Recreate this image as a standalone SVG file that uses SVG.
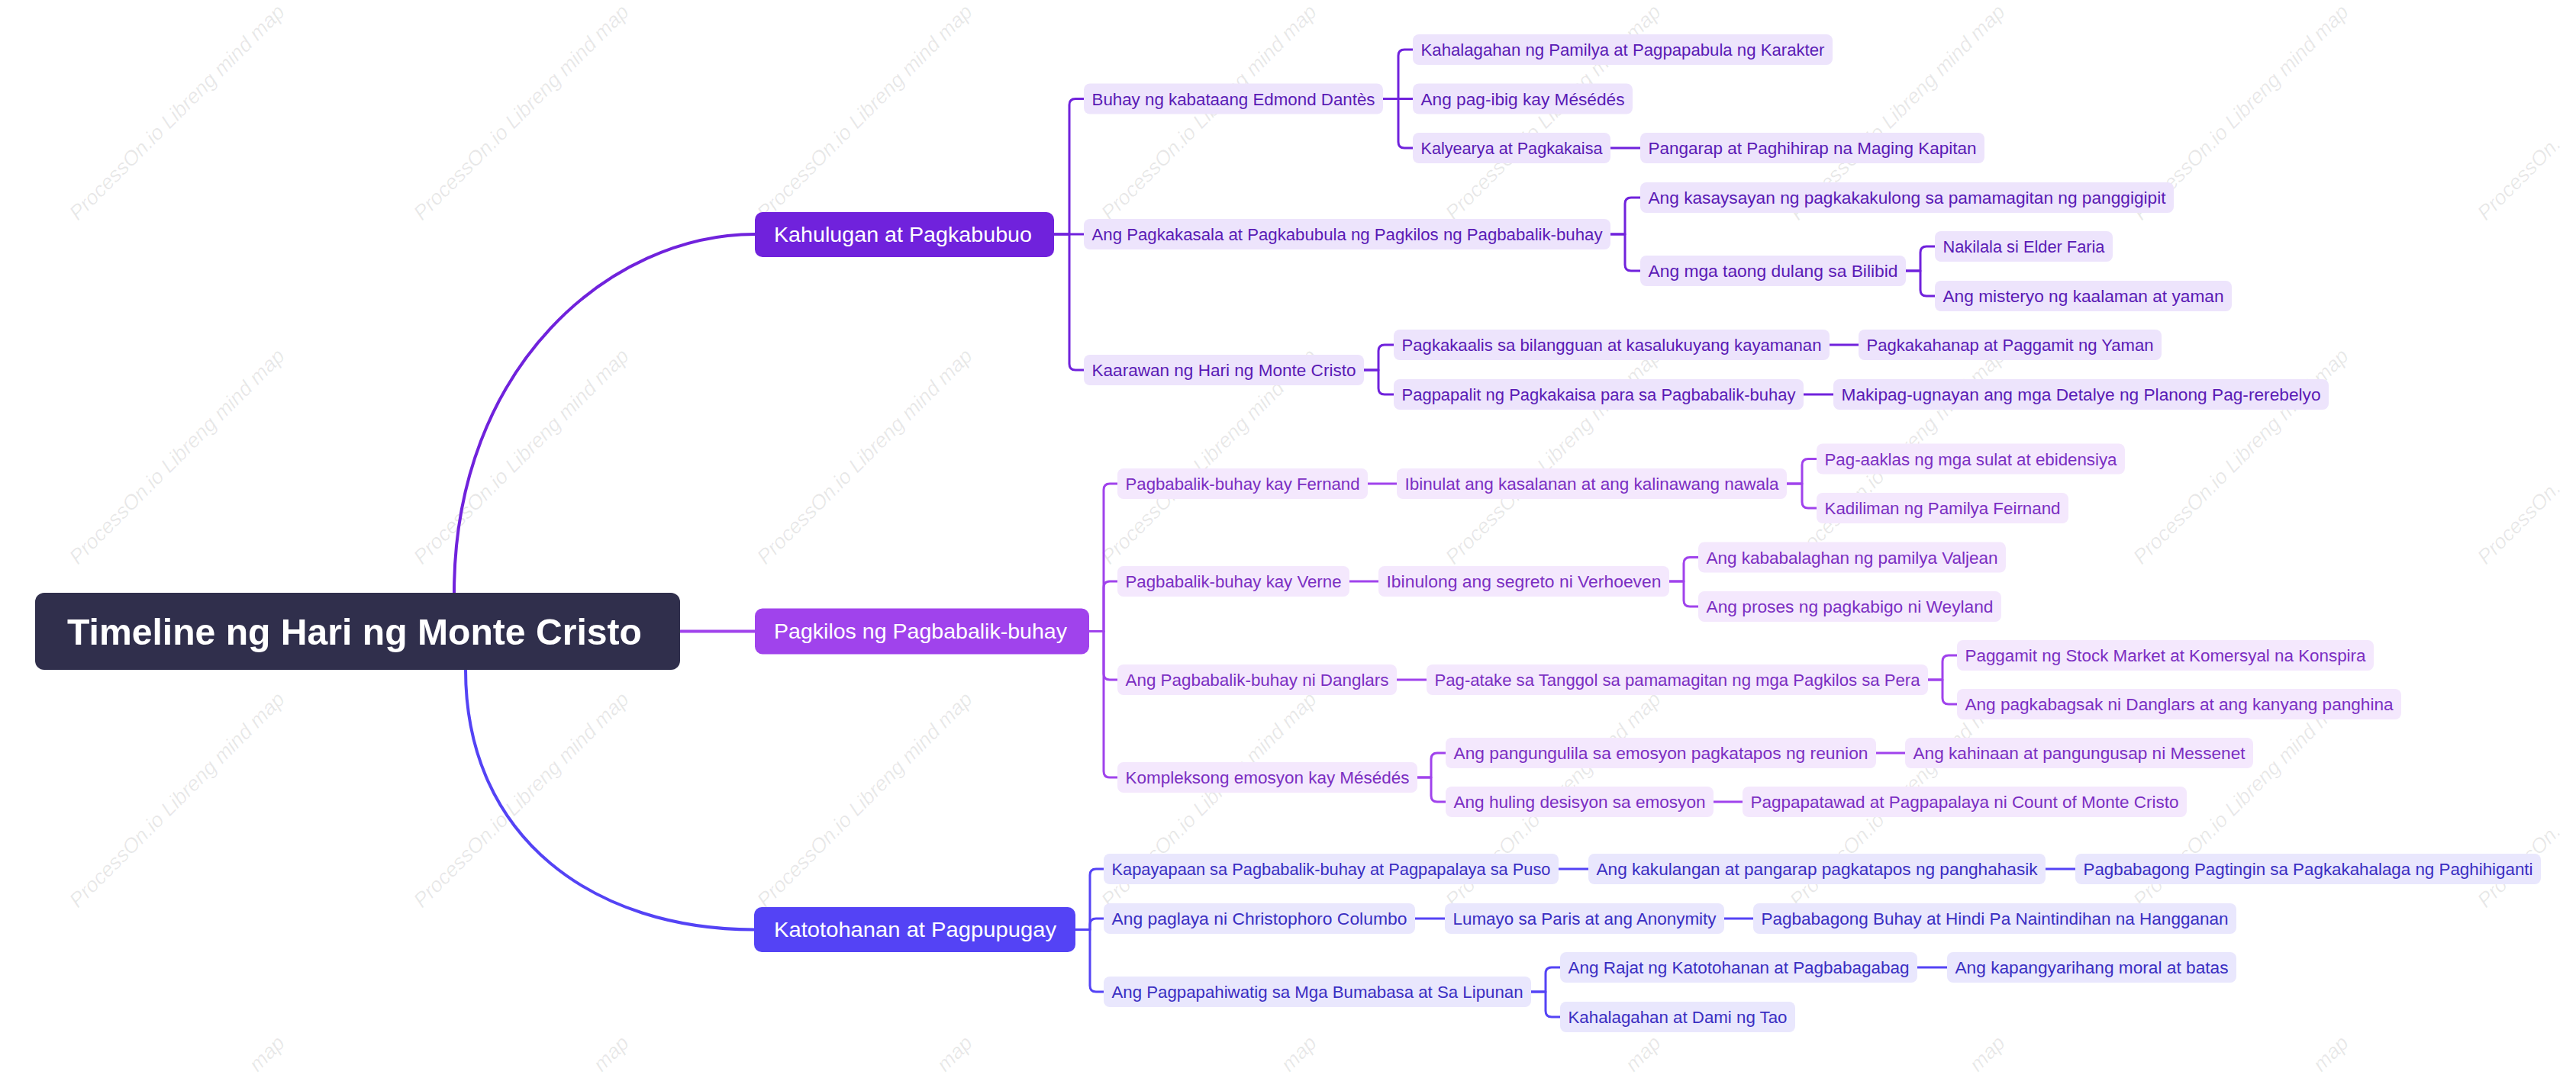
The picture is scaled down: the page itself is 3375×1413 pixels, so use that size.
<svg xmlns="http://www.w3.org/2000/svg" width="3375" height="1413" viewBox="0 0 3375 1413">
<style>
text{font-family:"Liberation Sans",Arial,sans-serif}
.wm text{font-size:27px;font-style:italic;fill:#000;fill-opacity:0.09}
.c{fill:none;stroke-width:3;stroke-linecap:round;stroke-linejoin:round}
.ca{stroke:#7022DC}.cb{stroke:#A043EC}.cc{stroke:#5443F5}
.r0{stroke-width:4}
.a rect{fill:#EDE4FC}.a text{fill:#5A1AB5;font-size:22.5px}
.b rect{fill:#F4E8FD}.b text{fill:#7B2EC2;font-size:22.5px}
.d rect{fill:#E9E7FD}.d text{fill:#3A2EC2;font-size:22.5px}
.h text{fill:#FFFFFF;font-size:28px}
.ha rect{fill:#7022DC}.hb rect{fill:#A043EC}.hc rect{fill:#5443F5}
</style>
<rect x="0" y="0" width="3375" height="1413" fill="#FFFFFF"/>
<g class="wm">
<text transform="translate(102,290) rotate(-45)">ProcessOn.io Libreng mind map</text>
<text transform="translate(553,290) rotate(-45)">ProcessOn.io Libreng mind map</text>
<text transform="translate(1003,290) rotate(-45)">ProcessOn.io Libreng mind map</text>
<text transform="translate(1454,290) rotate(-45)">ProcessOn.io Libreng mind map</text>
<text transform="translate(1905,290) rotate(-45)">ProcessOn.io Libreng mind map</text>
<text transform="translate(2356,290) rotate(-45)">ProcessOn.io Libreng mind map</text>
<text transform="translate(2806,290) rotate(-45)">ProcessOn.io Libreng mind map</text>
<text transform="translate(3257,290) rotate(-45)">ProcessOn.</text>
<text transform="translate(102,741) rotate(-45)">ProcessOn.io Libreng mind map</text>
<text transform="translate(553,741) rotate(-45)">ProcessOn.io Libreng mind map</text>
<text transform="translate(1003,741) rotate(-45)">ProcessOn.io Libreng mind map</text>
<text transform="translate(1454,741) rotate(-45)">ProcessOn.io Libreng mind map</text>
<text transform="translate(1905,741) rotate(-45)">ProcessOn.io Libreng mind map</text>
<text transform="translate(2356,741) rotate(-45)">ProcessOn.io Libreng mind map</text>
<text transform="translate(2806,741) rotate(-45)">ProcessOn.io Libreng mind map</text>
<text transform="translate(3257,741) rotate(-45)">ProcessOn.</text>
<text transform="translate(102,1191) rotate(-45)">ProcessOn.io Libreng mind map</text>
<text transform="translate(553,1191) rotate(-45)">ProcessOn.io Libreng mind map</text>
<text transform="translate(1003,1191) rotate(-45)">ProcessOn.io Libreng mind map</text>
<text transform="translate(1454,1191) rotate(-45)">ProcessOn.io Libreng mind map</text>
<text transform="translate(1905,1191) rotate(-45)">ProcessOn.io Libreng mind map</text>
<text transform="translate(2356,1191) rotate(-45)">ProcessOn.io Libreng mind map</text>
<text transform="translate(2806,1191) rotate(-45)">ProcessOn.io Libreng mind map</text>
<text transform="translate(3257,1191) rotate(-45)">ProcessOn.</text>
<text transform="translate(337.5,1406) rotate(-45)">map</text>
<text transform="translate(788.5,1406) rotate(-45)">map</text>
<text transform="translate(1238.5,1406) rotate(-45)">map</text>
<text transform="translate(1689.5,1406) rotate(-45)">map</text>
<text transform="translate(2140.5,1406) rotate(-45)">map</text>
<text transform="translate(2591.5,1406) rotate(-45)">map</text>
<text transform="translate(3041.5,1406) rotate(-45)">map</text>
</g>
<g id="connectors">
<path class="c ca r0" d="M595 800 V777 C595 480 800 307 989 307"/>
<path class="c cb r0" d="M891 827.5 H989"/>
<path class="c cc r0" d="M610 860 V878 C610 1100 780 1218.5 988 1218.5"/>
<path class="c ca" d="M1381 307 H1401 V137.5 Q1401 129.5 1409 129.5 H1420"/>
<path class="c ca" d="M1381 307 H1420"/>
<path class="c ca" d="M1381 307 H1401 V477 Q1401 485 1409 485 H1420"/>
<path class="c ca" d="M1812 129.5 H1832 V73 Q1832 65 1840 65 H1851"/>
<path class="c ca" d="M1812 129.5 H1851"/>
<path class="c ca" d="M1812 129.5 H1832 V186 Q1832 194 1840 194 H1851"/>
<path class="c ca" d="M2110 194 H2149"/>
<path class="c ca" d="M2110 307 H2129 V267 Q2129 259 2137 259 H2149"/>
<path class="c ca" d="M2110 307 H2129 V347 Q2129 355 2137 355 H2149"/>
<path class="c ca" d="M2497 355 H2516 V331 Q2516 323 2524 323 H2535"/>
<path class="c ca" d="M2497 355 H2516 V380 Q2516 388 2524 388 H2535"/>
<path class="c ca" d="M1787 485 H1806 V460 Q1806 452 1814 452 H1826"/>
<path class="c ca" d="M1787 485 H1806 V509 Q1806 517 1814 517 H1826"/>
<path class="c ca" d="M2397 452 H2435"/>
<path class="c ca" d="M2363 517 H2402"/>
<path class="c cb" d="M1427 827.5 H1446 V642 Q1446 634 1454 634 H1464"/>
<path class="c cb" d="M1427 827.5 H1446 V770 Q1446 762 1454 762 H1464"/>
<path class="c cb" d="M1427 827.5 H1446 V883 Q1446 891 1454 891 H1464"/>
<path class="c cb" d="M1427 827.5 H1446 V1011 Q1446 1019 1454 1019 H1464"/>
<path class="c cb" d="M1792 634 H1830"/>
<path class="c cb" d="M2341 634 H2361 V609.5 Q2361 601.5 2369 601.5 H2380"/>
<path class="c cb" d="M2341 634 H2361 V658 Q2361 666 2369 666 H2380"/>
<path class="c cb" d="M1768 762 H1806"/>
<path class="c cb" d="M2187 762 H2206 V738.5 Q2206 730.5 2214 730.5 H2225"/>
<path class="c cb" d="M2187 762 H2206 V787 Q2206 795 2214 795 H2225"/>
<path class="c cb" d="M1830 891 H1869"/>
<path class="c cb" d="M2526 891 H2545 V867 Q2545 859 2553 859 H2564"/>
<path class="c cb" d="M2526 891 H2545 V915 Q2545 923 2553 923 H2564"/>
<path class="c cb" d="M1857 1019 H1875 V995 Q1875 987 1883 987 H1894"/>
<path class="c cb" d="M1857 1019 H1875 V1043 Q1875 1051 1883 1051 H1894"/>
<path class="c cb" d="M2458 987 H2496"/>
<path class="c cb" d="M2245 1051 H2283"/>
<path class="c cc" d="M1409 1218.5 H1428 V1147 Q1428 1139 1436 1139 H1446"/>
<path class="c cc" d="M1409 1218.5 H1428 V1212 Q1428 1204 1436 1204 H1446"/>
<path class="c cc" d="M1409 1218.5 H1428 V1292 Q1428 1300 1436 1300 H1446"/>
<path class="c cc" d="M2042 1139 H2081"/>
<path class="c cc" d="M2680 1139 H2719"/>
<path class="c cc" d="M1854 1204 H1893"/>
<path class="c cc" d="M2259 1204 H2297"/>
<path class="c cc" d="M2006 1300 H2025 V1276 Q2025 1268 2033 1268 H2044"/>
<path class="c cc" d="M2006 1300 H2025 V1325 Q2025 1333 2033 1333 H2044"/>
<path class="c cc" d="M2512 1268 H2551"/>
</g>
<g id="root">
<rect x="46" y="777" width="845" height="101" rx="12" fill="#302F4C"/>
<text x="88" y="845" font-size="48" font-weight="bold" fill="#FFFFFF" textLength="753" lengthAdjust="spacingAndGlyphs">Timeline ng Hari ng Monte Cristo</text>
</g>
<g id="n-kahulugan" class="h ha"><rect x="989" y="278" width="392" height="59" rx="10"/><text x="1014" y="317" textLength="338" lengthAdjust="spacingAndGlyphs">Kahulugan at Pagkabubuo</text></g>
<g id="n-pagkilos" class="h hb"><rect x="989" y="797.5" width="438" height="60" rx="10"/><text x="1014" y="837" textLength="384" lengthAdjust="spacingAndGlyphs">Pagkilos ng Pagbabalik-buhay</text></g>
<g id="n-katotohanan" class="h hc"><rect x="988" y="1189" width="421" height="59" rx="10"/><text x="1014" y="1228" textLength="370" lengthAdjust="spacingAndGlyphs">Katotohanan at Pagpupugay</text></g>

<g id="n1" class="a"><rect x="1420" y="109.5" width="392" height="40" rx="8"/><text x="1430.5" y="137.5" textLength="371" lengthAdjust="spacingAndGlyphs">Buhay ng kabataang Edmond Dantès</text></g>
<g id="n2" class="a"><rect x="1851" y="45" width="550" height="40" rx="8"/><text x="1861.5" y="73" textLength="529" lengthAdjust="spacingAndGlyphs">Kahalagahan ng Pamilya at Pagpapabula ng Karakter</text></g>
<g id="n3" class="a"><rect x="1851" y="109.5" width="288" height="40" rx="8"/><text x="1861.5" y="137.5" textLength="267" lengthAdjust="spacingAndGlyphs">Ang pag-ibig kay Mésédés</text></g>
<g id="n4" class="a"><rect x="1851" y="174" width="259" height="40" rx="8"/><text x="1861.5" y="202" textLength="238" lengthAdjust="spacingAndGlyphs">Kalyearya at Pagkakaisa</text></g>
<g id="n5" class="a"><rect x="2149" y="174" width="451" height="40" rx="8"/><text x="2159.5" y="202" textLength="430" lengthAdjust="spacingAndGlyphs">Pangarap at Paghihirap na Maging Kapitan</text></g>
<g id="n6" class="a"><rect x="1420" y="287" width="690" height="40" rx="8"/><text x="1430.5" y="315" textLength="669" lengthAdjust="spacingAndGlyphs">Ang Pagkakasala at Pagkabubula ng Pagkilos ng Pagbabalik-buhay</text></g>
<g id="n7" class="a"><rect x="2149" y="239" width="699" height="40" rx="8"/><text x="2159.5" y="267" textLength="678" lengthAdjust="spacingAndGlyphs">Ang kasaysayan ng pagkakakulong sa pamamagitan ng panggigipit</text></g>
<g id="n8" class="a"><rect x="2149" y="335" width="348" height="40" rx="8"/><text x="2159.5" y="363" textLength="327" lengthAdjust="spacingAndGlyphs">Ang mga taong dulang sa Bilibid</text></g>
<g id="n9" class="a"><rect x="2535" y="303" width="233" height="40" rx="8"/><text x="2545.5" y="331" textLength="212" lengthAdjust="spacingAndGlyphs">Nakilala si Elder Faria</text></g>
<g id="n10" class="a"><rect x="2535" y="368" width="389" height="40" rx="8"/><text x="2545.5" y="396" textLength="368" lengthAdjust="spacingAndGlyphs">Ang misteryo ng kaalaman at yaman</text></g>
<g id="n11" class="a"><rect x="1420" y="465" width="367" height="40" rx="8"/><text x="1430.5" y="493" textLength="346" lengthAdjust="spacingAndGlyphs">Kaarawan ng Hari ng Monte Cristo</text></g>
<g id="n12" class="a"><rect x="1826" y="432" width="571" height="40" rx="8"/><text x="1836.5" y="460" textLength="550" lengthAdjust="spacingAndGlyphs">Pagkakaalis sa bilangguan at kasalukuyang kayamanan</text></g>
<g id="n13" class="a"><rect x="2435" y="432" width="397" height="40" rx="8"/><text x="2445.5" y="460" textLength="376" lengthAdjust="spacingAndGlyphs">Pagkakahanap at Paggamit ng Yaman</text></g>
<g id="n14" class="a"><rect x="1826" y="497" width="537" height="40" rx="8"/><text x="1836.5" y="525" textLength="516" lengthAdjust="spacingAndGlyphs">Pagpapalit ng Pagkakaisa para sa Pagbabalik-buhay</text></g>
<g id="n15" class="a"><rect x="2402" y="497" width="649" height="40" rx="8"/><text x="2412.5" y="525" textLength="628" lengthAdjust="spacingAndGlyphs">Makipag-ugnayan ang mga Detalye ng Planong Pag-rerebelyo</text></g>

<g id="n16" class="b"><rect x="1464" y="614" width="328" height="40" rx="8"/><text x="1474.5" y="642" textLength="307" lengthAdjust="spacingAndGlyphs">Pagbabalik-buhay kay Fernand</text></g>
<g id="n17" class="b"><rect x="1830" y="614" width="511" height="40" rx="8"/><text x="1840.5" y="642" textLength="490" lengthAdjust="spacingAndGlyphs">Ibinulat ang kasalanan at ang kalinawang nawala</text></g>
<g id="n18" class="b"><rect x="2380" y="581.5" width="404" height="40" rx="8"/><text x="2390.5" y="609.5" textLength="383" lengthAdjust="spacingAndGlyphs">Pag-aaklas ng mga sulat at ebidensiya</text></g>
<g id="n19" class="b"><rect x="2380" y="646" width="330" height="40" rx="8"/><text x="2390.5" y="674" textLength="309" lengthAdjust="spacingAndGlyphs">Kadiliman ng Pamilya Feirnand</text></g>
<g id="n20" class="b"><rect x="1464" y="742" width="304" height="40" rx="8"/><text x="1474.5" y="770" textLength="283" lengthAdjust="spacingAndGlyphs">Pagbabalik-buhay kay Verne</text></g>
<g id="n21" class="b"><rect x="1806" y="742" width="381" height="40" rx="8"/><text x="1816.5" y="770" textLength="360" lengthAdjust="spacingAndGlyphs">Ibinulong ang segreto ni Verhoeven</text></g>
<g id="n22" class="b"><rect x="2225" y="710.5" width="403" height="40" rx="8"/><text x="2235.5" y="738.5" textLength="382" lengthAdjust="spacingAndGlyphs">Ang kababalaghan ng pamilya Valjean</text></g>
<g id="n23" class="b"><rect x="2225" y="775" width="397" height="40" rx="8"/><text x="2235.5" y="803" textLength="376" lengthAdjust="spacingAndGlyphs">Ang proses ng pagkabigo ni Weyland</text></g>
<g id="n24" class="b"><rect x="1464" y="871" width="366" height="40" rx="8"/><text x="1474.5" y="899" textLength="345" lengthAdjust="spacingAndGlyphs">Ang Pagbabalik-buhay ni Danglars</text></g>
<g id="n25" class="b"><rect x="1869" y="871" width="657" height="40" rx="8"/><text x="1879.5" y="899" textLength="636" lengthAdjust="spacingAndGlyphs">Pag-atake sa Tanggol sa pamamagitan ng mga Pagkilos sa Pera</text></g>
<g id="n26" class="b"><rect x="2564" y="839" width="546" height="40" rx="8"/><text x="2574.5" y="867" textLength="525" lengthAdjust="spacingAndGlyphs">Paggamit ng Stock Market at Komersyal na Konspira</text></g>
<g id="n27" class="b"><rect x="2564" y="903" width="582" height="40" rx="8"/><text x="2574.5" y="931" textLength="561" lengthAdjust="spacingAndGlyphs">Ang pagkabagsak ni Danglars at ang kanyang panghina</text></g>
<g id="n28" class="b"><rect x="1464" y="999" width="393" height="40" rx="8"/><text x="1474.5" y="1027" textLength="372" lengthAdjust="spacingAndGlyphs">Kompleksong emosyon kay Mésédés</text></g>
<g id="n29" class="b"><rect x="1894" y="967" width="564" height="40" rx="8"/><text x="1904.5" y="995" textLength="543" lengthAdjust="spacingAndGlyphs">Ang pangungulila sa emosyon pagkatapos ng reunion</text></g>
<g id="n30" class="b"><rect x="2496" y="967" width="456" height="40" rx="8"/><text x="2506.5" y="995" textLength="435" lengthAdjust="spacingAndGlyphs">Ang kahinaan at pangungusap ni Messenet</text></g>
<g id="n31" class="b"><rect x="1894" y="1031" width="351" height="40" rx="8"/><text x="1904.5" y="1059" textLength="330" lengthAdjust="spacingAndGlyphs">Ang huling desisyon sa emosyon</text></g>
<g id="n32" class="b"><rect x="2283" y="1031" width="582" height="40" rx="8"/><text x="2293.5" y="1059" textLength="561" lengthAdjust="spacingAndGlyphs">Pagpapatawad at Pagpapalaya ni Count of Monte Cristo</text></g>

<g id="n33" class="d"><rect x="1446" y="1119" width="596" height="40" rx="8"/><text x="1456.5" y="1147" textLength="575" lengthAdjust="spacingAndGlyphs">Kapayapaan sa Pagbabalik-buhay at Pagpapalaya sa Puso</text></g>
<g id="n34" class="d"><rect x="2081" y="1119" width="599" height="40" rx="8"/><text x="2091.5" y="1147" textLength="578" lengthAdjust="spacingAndGlyphs">Ang kakulangan at pangarap pagkatapos ng panghahasik</text></g>
<g id="n35" class="d"><rect x="2719" y="1119" width="610" height="40" rx="8"/><text x="2729.5" y="1147" textLength="589" lengthAdjust="spacingAndGlyphs">Pagbabagong Pagtingin sa Pagkakahalaga ng Paghihiganti</text></g>
<g id="n36" class="d"><rect x="1446" y="1184" width="408" height="40" rx="8"/><text x="1456.5" y="1212" textLength="387" lengthAdjust="spacingAndGlyphs">Ang paglaya ni Christophoro Columbo</text></g>
<g id="n37" class="d"><rect x="1893" y="1184" width="366" height="40" rx="8"/><text x="1903.5" y="1212" textLength="345" lengthAdjust="spacingAndGlyphs">Lumayo sa Paris at ang Anonymity</text></g>
<g id="n38" class="d"><rect x="2297" y="1184" width="633" height="40" rx="8"/><text x="2307.5" y="1212" textLength="612" lengthAdjust="spacingAndGlyphs">Pagbabagong Buhay at Hindi Pa Naintindihan na Hangganan</text></g>
<g id="n39" class="d"><rect x="1446" y="1280" width="560" height="40" rx="8"/><text x="1456.5" y="1308" textLength="539" lengthAdjust="spacingAndGlyphs">Ang Pagpapahiwatig sa Mga Bumabasa at Sa Lipunan</text></g>
<g id="n40" class="d"><rect x="2044" y="1248" width="468" height="40" rx="8"/><text x="2054.5" y="1276" textLength="447" lengthAdjust="spacingAndGlyphs">Ang Rajat ng Katotohanan at Pagbabagabag</text></g>
<g id="n41" class="d"><rect x="2551" y="1248" width="379" height="40" rx="8"/><text x="2561.5" y="1276" textLength="358" lengthAdjust="spacingAndGlyphs">Ang kapangyarihang moral at batas</text></g>
<g id="n42" class="d"><rect x="2044" y="1313" width="308" height="40" rx="8"/><text x="2054.5" y="1341" textLength="287" lengthAdjust="spacingAndGlyphs">Kahalagahan at Dami ng Tao</text></g>
</svg>
